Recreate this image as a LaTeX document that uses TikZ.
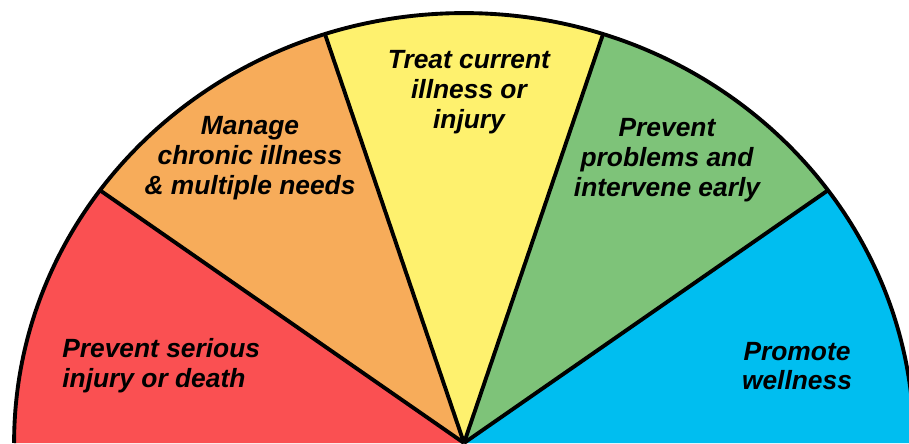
\documentclass[tikz,border=0pt]{standalone}
\usepackage{fontspec}
\setmainfont{Liberation Sans}
\usepackage{xcolor}
\usetikzlibrary{positioning}

\definecolor{secred}{RGB}{250,80,82}
\definecolor{secorange}{RGB}{247,172,90}
\definecolor{secyellow}{RGB}{254,241,110}
\definecolor{secgreen}{RGB}{126,195,121}
\definecolor{secblue}{RGB}{0,190,240}

\begin{document}
\begin{tikzpicture}[
    x=0.02cm, y=0.02cm,
    sector/.style={draw=none},
    divider/.style={draw=black, line width=2.2pt, line join=round},
    lbl/.style={font=\fontsize{15}{17}\selectfont\bfseries\itshape, align=center, text=black, inner sep=0pt}
]
\useasboundingbox (0,0) rectangle (909,443);

\coordinate (O) at (464,0);

% Sectors
\fill[sector, secblue] (O) -- ++(0:9cm and 8.6cm) arc[start angle=0, end angle=36, x radius=9cm, y radius=8.6cm] -- cycle;
\fill[sector, secgreen] (O) -- ++(36:9cm and 8.6cm) arc[start angle=36, end angle=72, x radius=9cm, y radius=8.6cm] -- cycle;
\fill[sector, secyellow] (O) -- ++(72:9cm and 8.6cm) arc[start angle=72, end angle=108, x radius=9cm, y radius=8.6cm] -- cycle;
\fill[sector, secorange] (O) -- ++(108:9cm and 8.6cm) arc[start angle=108, end angle=144, x radius=9cm, y radius=8.6cm] -- cycle;
\fill[sector, secred] (O) -- ++(144:9cm and 8.6cm) arc[start angle=144, end angle=180, x radius=9cm, y radius=8.6cm] -- cycle;

% Dividers and rim
\draw[divider] (O) -- ++(36:9cm and 8.6cm);
\draw[divider] (O) -- ++(72:9cm and 8.6cm);
\draw[divider] (O) -- ++(108:9cm and 8.6cm);
\draw[divider] (O) -- ++(144:9cm and 8.6cm);
\draw[divider] (O) ++(0:9cm and 8.6cm) arc[start angle=0, end angle=180, x radius=9cm, y radius=8.6cm];

% Labels
\node[lbl, anchor=west, align=left] (death) at (62,77) {Prevent serious\\injury or death};
\node[lbl] (chronic) at (250,285) {Manage\\chronic illness\\\& multiple needs};
\node[lbl] (treat) at (469,351) {Treat current\\illness or\\injury};
\node[lbl] (early) at (667,283) {Prevent\\problems and\\intervene early};
\node[lbl] (wellness) at (797,77) {Promote\\wellness};

\end{tikzpicture}
\end{document}
